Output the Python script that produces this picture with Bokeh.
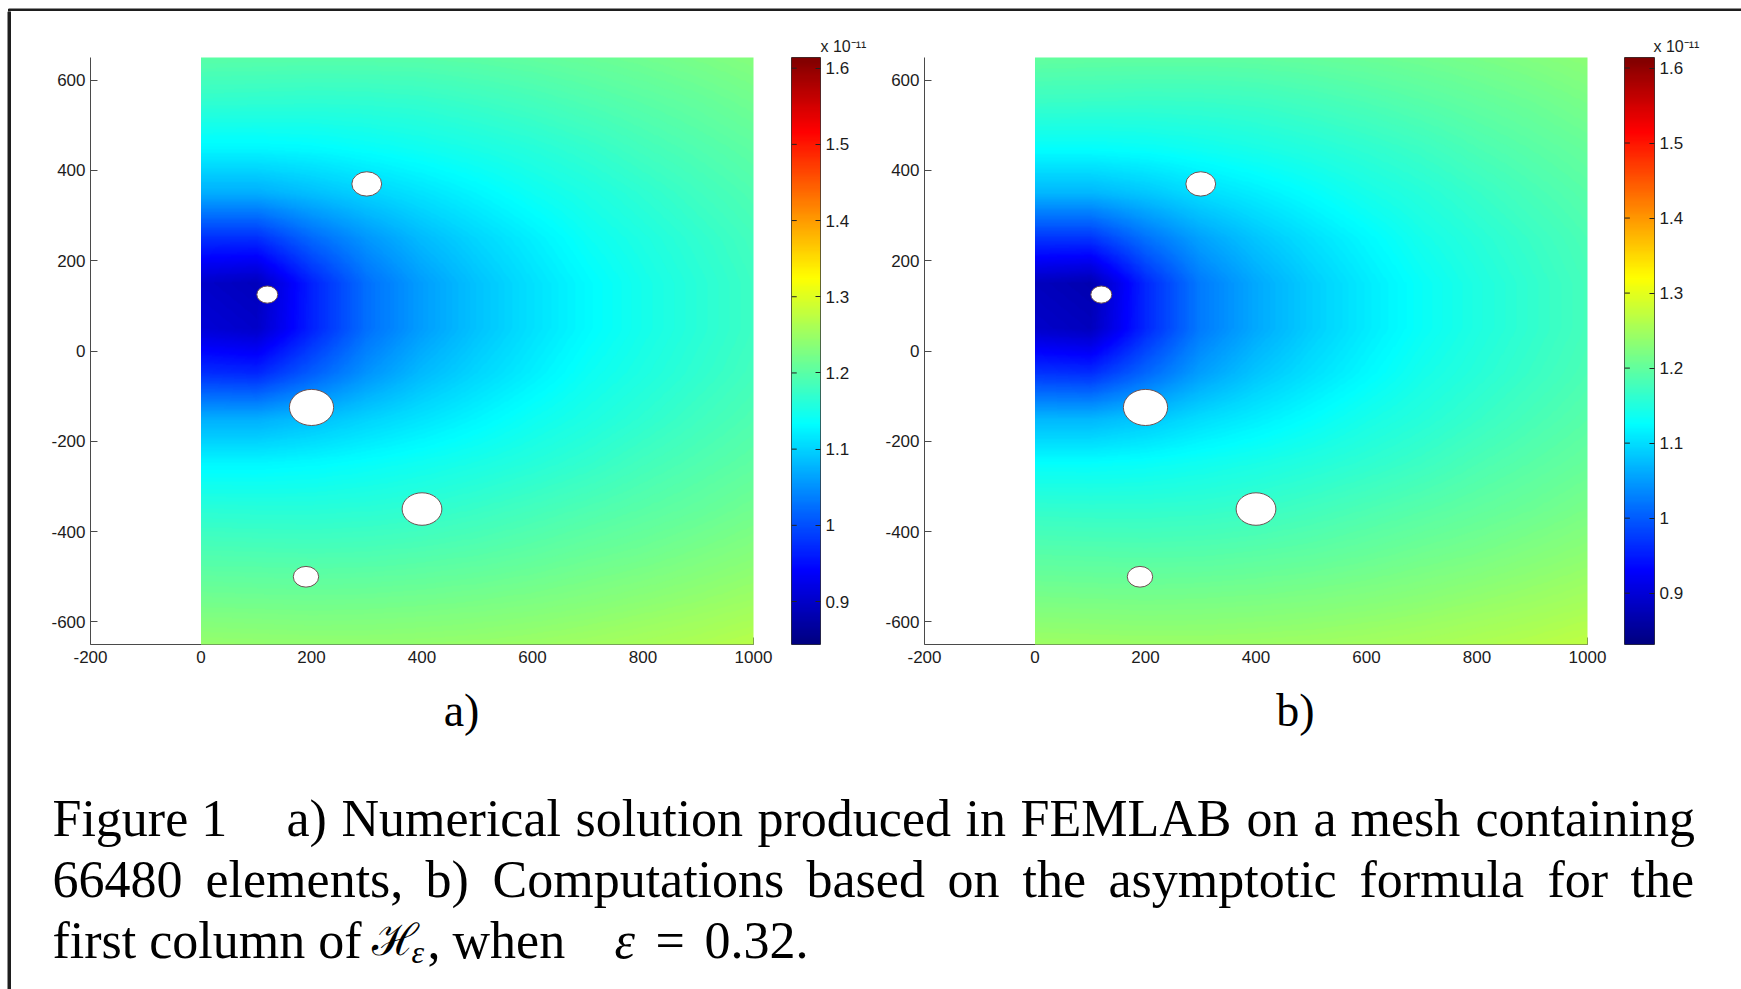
import numpy as np
from bokeh.plotting import figure
from bokeh.layouts import row, column
from bokeh.models import Range1d, LinearColorMapper, FixedTicker, LinearAxis
from bokeh.core.properties import value
from bokeh.embed import file_html
from bokeh.resources import INLINE

# ---------------------------------------------------------------- data
# field samples (units of 1e-11) on a coarse grid; rows run from top (y=650) to bottom
grid_x = [0, 100, 200, 300, 400, 500, 600, 700, 800, 900, 1000]
grid_y = [650, 550, 450, 350, 250, 150, 50, -50, -150, -250, -350, -450, -550, -650]

field_a = [
    [1.200, 1.199, 1.198, 1.198, 1.199, 1.202, 1.206, 1.211, 1.217, 1.224, 1.232],
    [1.168, 1.167, 1.166, 1.167, 1.170, 1.176, 1.183, 1.191, 1.199, 1.207, 1.217],
    [1.128, 1.128, 1.131, 1.137, 1.144, 1.152, 1.161, 1.171, 1.183, 1.193, 1.203],
    [1.072, 1.072, 1.085, 1.100, 1.113, 1.127, 1.142, 1.154, 1.167, 1.180, 1.192],
    [0.975, 0.975, 1.020, 1.055, 1.082, 1.103, 1.122, 1.141, 1.155, 1.169, 1.183],
    [0.900, 0.890, 0.965, 1.025, 1.060, 1.088, 1.111, 1.131, 1.148, 1.163, 1.178],
    [0.910, 0.900, 0.965, 1.025, 1.060, 1.088, 1.111, 1.131, 1.148, 1.163, 1.178],
    [0.975, 0.970, 1.012, 1.053, 1.082, 1.103, 1.122, 1.141, 1.155, 1.169, 1.183],
    [1.072, 1.072, 1.085, 1.100, 1.113, 1.127, 1.142, 1.154, 1.167, 1.180, 1.192],
    [1.128, 1.128, 1.131, 1.137, 1.144, 1.152, 1.161, 1.171, 1.183, 1.193, 1.203],
    [1.163, 1.162, 1.162, 1.164, 1.168, 1.175, 1.183, 1.191, 1.199, 1.207, 1.217],
    [1.192, 1.191, 1.190, 1.191, 1.194, 1.198, 1.204, 1.211, 1.217, 1.225, 1.233],
    [1.218, 1.217, 1.216, 1.217, 1.219, 1.222, 1.226, 1.231, 1.237, 1.243, 1.250],
    [1.245, 1.244, 1.243, 1.243, 1.244, 1.246, 1.249, 1.253, 1.258, 1.263, 1.270],
]

field_b = [
    [1.200, 1.199, 1.198, 1.198, 1.199, 1.202, 1.206, 1.211, 1.217, 1.224, 1.232],
    [1.168, 1.167, 1.166, 1.167, 1.170, 1.176, 1.183, 1.191, 1.199, 1.207, 1.217],
    [1.128, 1.128, 1.131, 1.137, 1.144, 1.152, 1.161, 1.171, 1.183, 1.193, 1.203],
    [1.070, 1.070, 1.083, 1.100, 1.113, 1.127, 1.142, 1.154, 1.167, 1.180, 1.192],
    [0.970, 0.970, 1.018, 1.055, 1.082, 1.103, 1.122, 1.141, 1.155, 1.169, 1.183],
    [0.880, 0.870, 0.960, 1.025, 1.060, 1.088, 1.111, 1.131, 1.148, 1.163, 1.178],
    [0.890, 0.880, 0.960, 1.025, 1.060, 1.088, 1.111, 1.131, 1.148, 1.163, 1.178],
    [0.970, 0.965, 1.010, 1.053, 1.082, 1.103, 1.122, 1.141, 1.155, 1.169, 1.183],
    [1.070, 1.070, 1.083, 1.100, 1.113, 1.127, 1.142, 1.154, 1.167, 1.180, 1.192],
    [1.128, 1.128, 1.131, 1.137, 1.144, 1.152, 1.161, 1.171, 1.183, 1.193, 1.203],
    [1.163, 1.162, 1.162, 1.164, 1.168, 1.175, 1.183, 1.191, 1.199, 1.207, 1.217],
    [1.192, 1.191, 1.190, 1.191, 1.194, 1.198, 1.204, 1.211, 1.217, 1.225, 1.233],
    [1.218, 1.217, 1.216, 1.217, 1.219, 1.222, 1.226, 1.231, 1.237, 1.243, 1.250],
    [1.245, 1.244, 1.243, 1.243, 1.244, 1.246, 1.249, 1.253, 1.258, 1.263, 1.270],
]

# circular inclusions cut out of the domain
hole_x = [300, 120, 200, 400, 190]
hole_y = [370, 125, -125, -350, -500]
hole_r = [27, 19, 40, 36, 23]

x_ticks = [-200, 0, 200, 400, 600, 800, 1000]
x_tick_labels = ["-200", "0", "200", "400", "600", "800", "1000"]
y_ticks = [-600, -400, -200, 0, 200, 400, 600]
y_tick_labels = ["-600", "-400", "-200", "0", "200", "400", "600"]
cbar_ticks = [0.9, 1.0, 1.1, 1.2, 1.3, 1.4, 1.5, 1.6]
cbar_labels = ["0.9", "1", "1.1", "1.2", "1.3", "1.4", "1.5", "1.6"]
cbar_range_a = (0.8436, 1.614)
cbar_range_b = (0.8316, 1.614)

# ---------------------------------------------------------------- helpers
def jet_palette(n=256):
    t = np.linspace(0.0, 1.0, n)
    r = np.clip(1.5 - np.abs(4 * t - 3), 0, 1)
    g = np.clip(1.5 - np.abs(4 * t - 2), 0, 1)
    b = np.clip(1.5 - np.abs(4 * t - 1), 0, 1)
    return ["#%02x%02x%02x" % (int(round(255 * a)), int(round(255 * c)), int(round(255 * d)))
            for a, c, d in zip(r, g, b)]


JET = jet_palette()


def raster(gx, gy, vals, step=2.0):
    """Resample the grid samples onto a fine raster (rows bottom -> top)."""
    gx = np.asarray(gx, float)
    gy = np.asarray(gy, float)
    v = np.asarray(vals, float)
    order = np.argsort(gy)
    gy, v = gy[order], v[order]
    fx = np.arange(gx[0], gx[-1] + step / 2, step)
    fy = np.arange(gy[0], gy[-1] + step / 2, step)
    rows = np.array([np.interp(fx, gx, r) for r in v])
    out = np.array([np.interp(fy, gy, rows[:, j]) for j in range(len(fx))]).T
    return out.astype(np.float32)


AXIS_COLOR = "#4a4a4a"
TICK_FONT = "Liberation Sans"

ROW_H = 669
BORDER_TOP = 46
BORDER_BOTTOM = 36


def field_panel(vals, lo, hi, width, left):
    p = figure(width=width, height=ROW_H, x_range=Range1d(-200, 1000), y_range=Range1d(-650, 650),
               toolbar_location=None, output_backend="svg", title=None,
               min_border_left=left, min_border_right=23,
               min_border_top=BORDER_TOP, min_border_bottom=BORDER_BOTTOM)
    p.outline_line_color = None
    p.grid.visible = False
    mapper = LinearColorMapper(palette=JET, low=lo, high=hi)
    p.image(image=[raster(grid_x, grid_y, vals)], x=0, y=-650, dw=1000, dh=1300,
            color_mapper=mapper, level="overlay")
    p.ellipse(x=hole_x, y=hole_y, width=[2 * r for r in hole_r], height=[2 * r for r in hole_r],
              fill_color="white", line_color="#6e5252", line_width=1, level="overlay")
    p.xaxis.ticker = FixedTicker(ticks=x_ticks)
    p.yaxis.ticker = FixedTicker(ticks=y_ticks)
    p.xaxis.major_label_overrides = dict(zip(x_ticks, x_tick_labels))
    p.yaxis.major_label_overrides = dict(zip(y_ticks, y_tick_labels))
    for ax in p.axis:
        ax.axis_line_color = AXIS_COLOR
        ax.major_tick_line_color = AXIS_COLOR
        ax.major_tick_in = 7
        ax.major_tick_out = 0
        ax.minor_tick_line_color = None
        ax.major_label_text_font = TICK_FONT
        ax.major_label_text_font_size = "17px"
        ax.major_label_text_color = "#1c1c1c"
    p.xaxis.major_label_standoff = 6
    p.yaxis.major_label_standoff = 5
    return p


def colorbar_panel(lo, hi, width, left, right):
    p = figure(width=width, height=ROW_H, x_range=Range1d(0, 1), y_range=Range1d(lo, hi),
               toolbar_location=None, output_backend="svg", title="x 10\u207b\u00b9\u00b9",
               min_border_left=left, min_border_right=right,
               min_border_top=BORDER_TOP, min_border_bottom=BORDER_BOTTOM,
               x_axis_location=None, y_axis_location=None)
    p.grid.visible = False
    p.outline_line_color = "#333333"
    mapper = LinearColorMapper(palette=JET, low=lo, high=hi)
    levels = np.linspace(lo, hi, 512).reshape(-1, 1)
    p.image(image=[levels], x=0, y=lo, dw=1, dh=hi - lo, color_mapper=mapper)
    # inward tick marks on the left edge of the bar
    p.segment(x0=[0] * len(cbar_ticks), x1=[0.18] * len(cbar_ticks), y0=cbar_ticks, y1=cbar_ticks,
              line_color="#222222", line_width=1)
    rax = LinearAxis(ticker=FixedTicker(ticks=cbar_ticks),
                     major_label_overrides=dict(zip(cbar_ticks, cbar_labels)))
    rax.axis_line_color = None
    rax.major_tick_line_color = "#222222"
    rax.major_tick_in = 5
    rax.major_tick_out = 0
    rax.minor_tick_line_color = None
    rax.major_label_text_font = TICK_FONT
    rax.major_label_text_font_size = "17px"
    rax.major_label_text_color = "#1c1c1c"
    rax.major_label_standoff = 5
    p.add_layout(rax, "right")
    p.title.text_font = TICK_FONT
    p.title.text_font_size = "16px"
    p.title.text_font_style = "normal"
    p.title.text_color = "#1c1c1c"
    p.title.align = "left"
    p.title.offset = 29
    p.title.standoff = 5
    return p


# ---------------------------------------------------------------- panels
fig_a = field_panel(field_a, *cbar_range_a, width=765, left=79)
cb_a = colorbar_panel(*cbar_range_a, width=104, left=15, right=60)
fig_b = field_panel(field_b, *cbar_range_b, width=730, left=44)
cb_b = colorbar_panel(*cbar_range_b, width=131, left=14, right=87)

# ---------------------------------------------------------------- caption area
cap = figure(width=1730, height=309, x_range=Range1d(11, 1741), y_range=Range1d(989, 680),
             toolbar_location=None, output_backend="svg", min_border=0, title=None,
             x_axis_location=None, y_axis_location=None)
cap.outline_line_color = None
cap.grid.visible = False

serif = value("Liberation Serif")
LIFT = 17
cap.text(x=[461, 1295], y=[727 - LIFT] * 2, text=["a)", "b)"], text_font=serif,
         text_font_size="46px", text_align="center", text_baseline="alphabetic", text_color="black")

line1 = [("Figure 1", 52), ("a)", 286), ("Numerical", 341), ("solution", 575), ("produced", 757),
         ("in", 965), ("FEMLAB", 1020), ("on", 1246), ("a", 1313), ("mesh", 1350), ("containing", 1475)]
line2 = [("66480", 52), ("elements,", 205), ("b)", 425), ("Computations", 492), ("based", 806),
         ("on", 947), ("the", 1022), ("asymptotic", 1108), ("formula", 1359), ("for", 1547), ("the", 1630)]
line3 = [("first column of", 52), (",", 427), ("when", 452), ("=", 655), ("0.32.", 704)]

for words, base in ((line1, 835), (line2, 896), (line3, 957)):
    cap.text(x=[w[1] for w in words], y=[base - LIFT] * len(words), text=[w[0] for w in words],
             text_font=serif, text_font_size="52px", text_align="left",
             text_baseline="alphabetic", text_color="black")

cap.text(x=[371], y=[957 - LIFT], text=["\u210b"], text_font=serif, text_font_size="44px",
         text_baseline="alphabetic", text_color="black")
cap.text(x=[614], y=[957 - LIFT], text=["\u03b5"], text_font=serif, text_font_size="52px",
         text_font_style="italic", text_baseline="alphabetic", text_color="black")
cap.text(x=[411], y=[968 - LIFT], text=["\u03b5"], text_font=serif, text_font_size="32px",
         text_font_style="italic", text_baseline="alphabetic", text_color="black")

# ---------------------------------------------------------------- frame rules
top_rule = figure(width=1741, height=11, x_range=Range1d(0, 1741), y_range=Range1d(11, 0),
                  toolbar_location=None, output_backend="svg", min_border=0, title=None,
                  x_axis_location=None, y_axis_location=None)
top_rule.outline_line_color = None
top_rule.grid.visible = False
top_rule.quad(left=[8], right=[1741], top=[7.5], bottom=[10], color="#1e1e1e")

left_rule = figure(width=11, height=978, x_range=Range1d(0, 11), y_range=Range1d(989, 11),
                   toolbar_location=None, output_backend="svg", min_border=0, title=None,
                   x_axis_location=None, y_axis_location=None)
left_rule.outline_line_color = None
left_rule.grid.visible = False
left_rule.quad(left=[7.5], right=[10], top=[11], bottom=[989], color="#1e1e1e")

content = column(row(fig_a, cb_a, fig_b, cb_b), cap)
page = column(top_rule, row(left_rule, content))

open("out.html", "w").write(file_html(page, INLINE))
